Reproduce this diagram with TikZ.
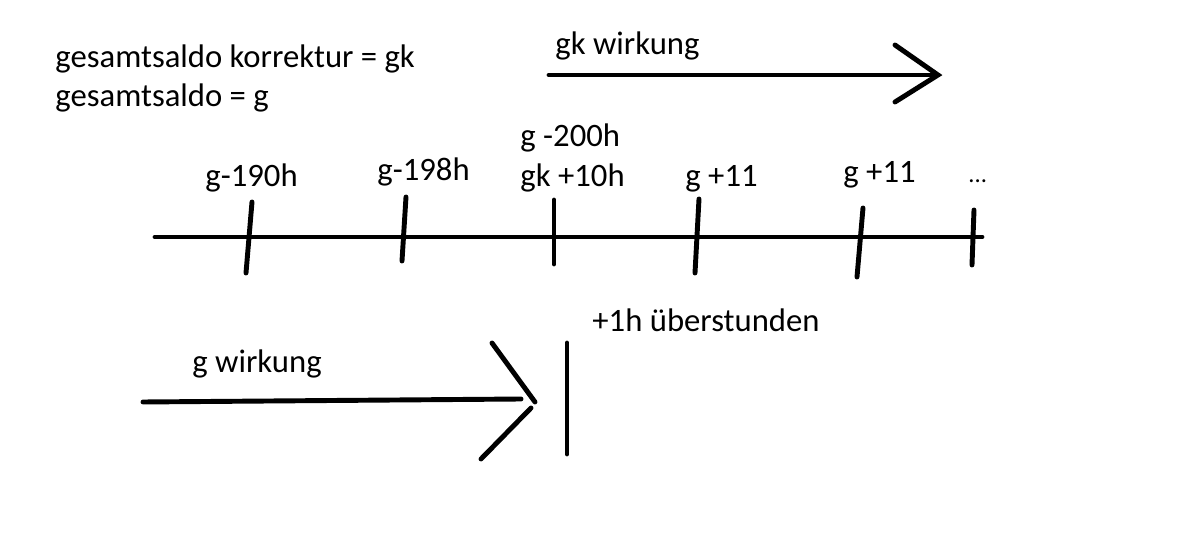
\documentclass[tikz,border=0pt]{standalone}
\usepackage{fontspec}
\setmainfont{Carlito}
\usetikzlibrary{positioning}

\begin{document}
\begin{tikzpicture}[x=0.02cm,y=-0.02cm,line width=2.8pt,line cap=round,
  txt/.style={anchor=base west,inner sep=0pt,font=\fontsize{18.6}{22}\selectfont}]
  \useasboundingbox (0,0) rectangle (1191,540);
  % Legend in the upper left corner.
  \node[txt] (legendgk) at (53,68) {gesamtsaldo korrektur = gk};
  \node[txt] (legendg) at (53,107) {gesamtsaldo = g};
  % Upper arrow with its label.
  \node[txt] (gkwirk) at (553,55) {gk wirkung};
  \coordinate (gkstart) at (549,75);
  \coordinate (gktip) at (938,75);
  \coordinate (gkup) at (895,45);
  \coordinate (gkdown) at (895,102);
  \draw (gkstart) -- (gktip);
  \draw (gkup) -- (gktip) -- (gkdown);
  % The time line and its ticks.
  \coordinate (axleft) at (155,237);
  \coordinate (axright) at (982,237);
  \draw (axleft) -- (axright);
  \foreach \i/\xa/\ya/\xb/\yb in {1/252/202/246/273,2/406/197/402/261,
      3/554/200/554/264,4/699/199/695/273,5/863/208/857/277,6/974/210/972/265}{
    \coordinate (tick\i top) at (\xa,\ya);
    \coordinate (tick\i bot) at (\xb,\yb);
    \draw (tick\i top) -- (tick\i bot);
  }
  % Labels above the ticks.
  \node[txt] (lab1) at (203,187) {g-190h};
  \node[txt] (lab2) at (375,181) {g-198h};
  \node[txt] (lab3a) at (518,147) {g -200h};
  \node[txt] (lab3b) at (518,187) {gk +10h};
  \node[txt] (lab4) at (683,187) {g +11};
  \node[txt] (lab5) at (841,183) {g +11};
  \node[txt] (lab6) at (966,183) {\fontsize{14}{16}\selectfont ...};
  % Lower arrow, running into the bar.
  \node[txt] (gwirk) at (190,373) {g wirkung};
  \node[txt] (ueber) at (590,332) {+1h überstunden};
  \coordinate (gstart) at (143,402);
  \coordinate (gend) at (521,399);
  \coordinate (gup) at (492,343);
  \coordinate (gtip) at (535,402);
  \coordinate (gtipb) at (531,408);
  \coordinate (gdown) at (481,459);
  \draw (gstart) -- (gend);
  \draw (gup) -- (gtip);
  \draw (gtipb) -- (gdown);
  \coordinate (bartop) at (567,343);
  \coordinate (barbot) at (567,454);
  \draw (bartop) -- (barbot);
\end{tikzpicture}
\end{document}
